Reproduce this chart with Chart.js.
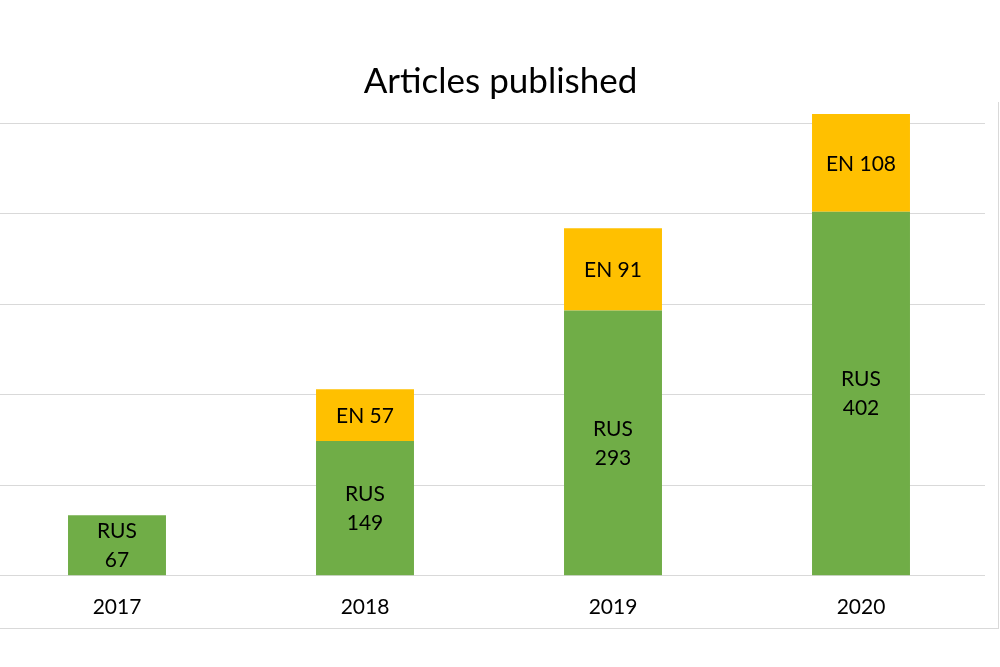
<!DOCTYPE html>
<html>
<head>
<meta charset="utf-8">
<script src="https://cdn.jsdelivr.net/npm/chart.js@4/dist/chart.umd.min.js"></script>
<style>
body { margin: 0; background: #fff; overflow: hidden; }
#wrap { position: relative; width: 1000px; height: 667px; overflow: hidden; }
#frame { position: absolute; left: -2px; top: 102px; width: 1001px; height: 527px; box-sizing: border-box;
  border-right: 1px solid #d9d9d9; border-bottom: 1px solid #d9d9d9; }
#graph { position: absolute; left: -7px; top: 0; }
</style>
</head>
<body>
<div id="wrap">
  <div id="frame"></div>
  <canvas id="graph" width="1015" height="667"></canvas>
</div>
<script>
var years = ['2017', '2018', '2019', '2020'];
var rusArticles = [67, 149, 293, 402];
var enArticles = [null, 57, 91, 108];
var rusLabel = 'RUS';
var enLabel = 'EN';

// draws the text inside each bar (no datalabels plugin available)
var barText = {
    id: 'barText',
    afterDatasetsDraw: function(chart) {
        var ctx = chart.ctx;
        ctx.save();
        ctx.font = '21px Lato';
        ctx.fillStyle = '#000';
        ctx.textAlign = 'center';
        ctx.textBaseline = 'middle';
        chart.data.datasets.forEach(function(ds, d) {
            var meta = chart.getDatasetMeta(d);
            meta.data.forEach(function(bar, i) {
                var v = ds.data[i];
                if (v == null) return;
                var mid = (bar.y + bar.base) / 2;
                if (d == 0) {
                    ctx.fillText(rusLabel, bar.x, mid - 14);
                    ctx.fillText(String(v), bar.x, mid + 15);
                } else {
                    ctx.fillText(enLabel + ' ' + v, bar.x, mid + 1);
                }
            });
        });
        ctx.restore();
    }
};

var ctx = document.getElementById('graph').getContext('2d');
var myChart = new Chart(ctx, {
    type: 'bar',
    data: {
        labels: years,
        datasets: [{
            label: rusLabel,
            data: rusArticles,
            backgroundColor: '#70AD47',
            categoryPercentage: 1,
            barPercentage: 0.395
        }, {
            label: enLabel,
            data: enArticles,
            backgroundColor: '#FFC000',
            categoryPercentage: 1,
            barPercentage: 0.395
        }]
    },
    options: {
        responsive: false,
        animation: false,
        layout: { padding: { left: 0, right: 0, top: 0, bottom: 36 } },
        plugins: {
            legend: { display: false },
            tooltip: { enabled: false },
            title: {
                display: true,
                text: 'Articles published',
                color: '#000',
                font: { family: 'Lato', size: 35, weight: 'normal' },
                padding: { top: 61, bottom: 2 }
            }
        },
        scales: {
            x: {
                stacked: true,
                grid: { display: false },
                border: { display: false },
                ticks: { color: '#000', padding: 11, font: { family: 'Lato', size: 21 } }
            },
            y: {
                stacked: true,
                position: 'right',
                min: 0,
                max: 520,
                border: { display: false },
                grid: {
                    drawTicks: false,
                    color: function(c) { return c.tick && c.tick.value % 100 == 0 ? '#d9d9d9' : 'rgba(0,0,0,0)'; }
                },
                ticks: { display: false, stepSize: 100 },
                // empty strip on the right so the plot ends before the frame
                afterFit: function(scale) { scale.width = 23; }
            }
        }
    },
    plugins: [barText]
});
</script>
</body>
</html>
